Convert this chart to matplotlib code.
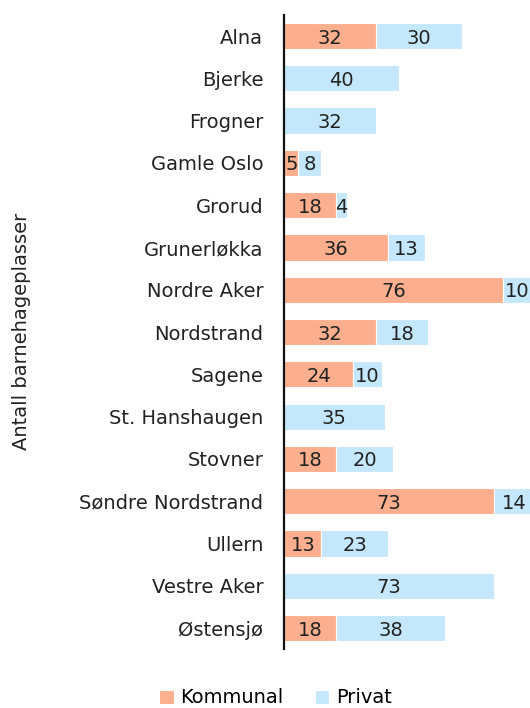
import numpy as np
import matplotlib.pyplot as plt

# ---------- DATA ----------
bydeler = ["Alna", "Bjerke", "Frogner", "Gamle Oslo", "Grorud", "Grunerløkka",
           "Nordre Aker", "Nordstrand", "Sagene", "St. Hanshaugen", "Stovner",
           "Søndre Nordstrand", "Ullern", "Vestre Aker", "Østensjø"]
kommunal = [32, 0, 0, 5, 18, 36, 76, 32, 24, 0, 18, 73, 13, 0, 18]
privat = [30, 40, 32, 8, 4, 13, 10, 18, 10, 35, 20, 14, 23, 73, 38]

C_KOM = "#FBAF8E"
C_PRIV = "#C5E7FC"
FS = 14

plt.rcParams["font.family"] = ["DejaVu Sans"]

fig = plt.figure(figsize=(5.3, 7.08), dpi=100)
ax = fig.add_axes([0.536, 0.083, 0.464, 0.896])

y = np.arange(len(bydeler))
kom = np.array(kommunal)
priv = np.array(privat)

ax.barh(y, kom, height=0.62, color=C_KOM, edgecolor="white", linewidth=0.8,
        label="Kommunal")
ax.barh(y, priv, left=kom, height=0.62, color=C_PRIV, edgecolor="white",
        linewidth=0.8, label="Privat")

for i in range(len(bydeler)):
    if kom[i] > 0:
        ax.text(kom[i] / 2, y[i], str(kom[i]), ha="center",
                va="center_baseline", fontsize=FS, color="#222222")
    if priv[i] > 0:
        ax.text(kom[i] + priv[i] / 2, y[i], str(priv[i]), ha="center",
                va="center_baseline", fontsize=FS, color="#222222")

ax.set_yticks(y)
ax.set_yticklabels(bydeler, fontsize=FS, color="#222222")
ax.set_ylim(len(bydeler) - 0.5, -0.5)
ax.set_xlim(0, 85.5)
ax.set_xticks([])
ax.tick_params(axis="y", length=0, pad=15)
for s in ["top", "right", "bottom"]:
    ax.spines[s].set_visible(False)
ax.spines["left"].set_linewidth(1.6)
ax.spines["left"].set_color("#111111")

fig.text(0.04, 0.532, "Antall barnehageplasser", rotation=90, ha="center",
         va="center", fontsize=FS, color="#222222")

fig.legend(loc="lower center", bbox_to_anchor=(0.52, -0.024), ncol=2,
           frameon=False, fontsize=FS, handlelength=0.75, handleheight=0.75,
           handletextpad=0.35, columnspacing=1.6)

fig.savefig("out.png", dpi=100)
